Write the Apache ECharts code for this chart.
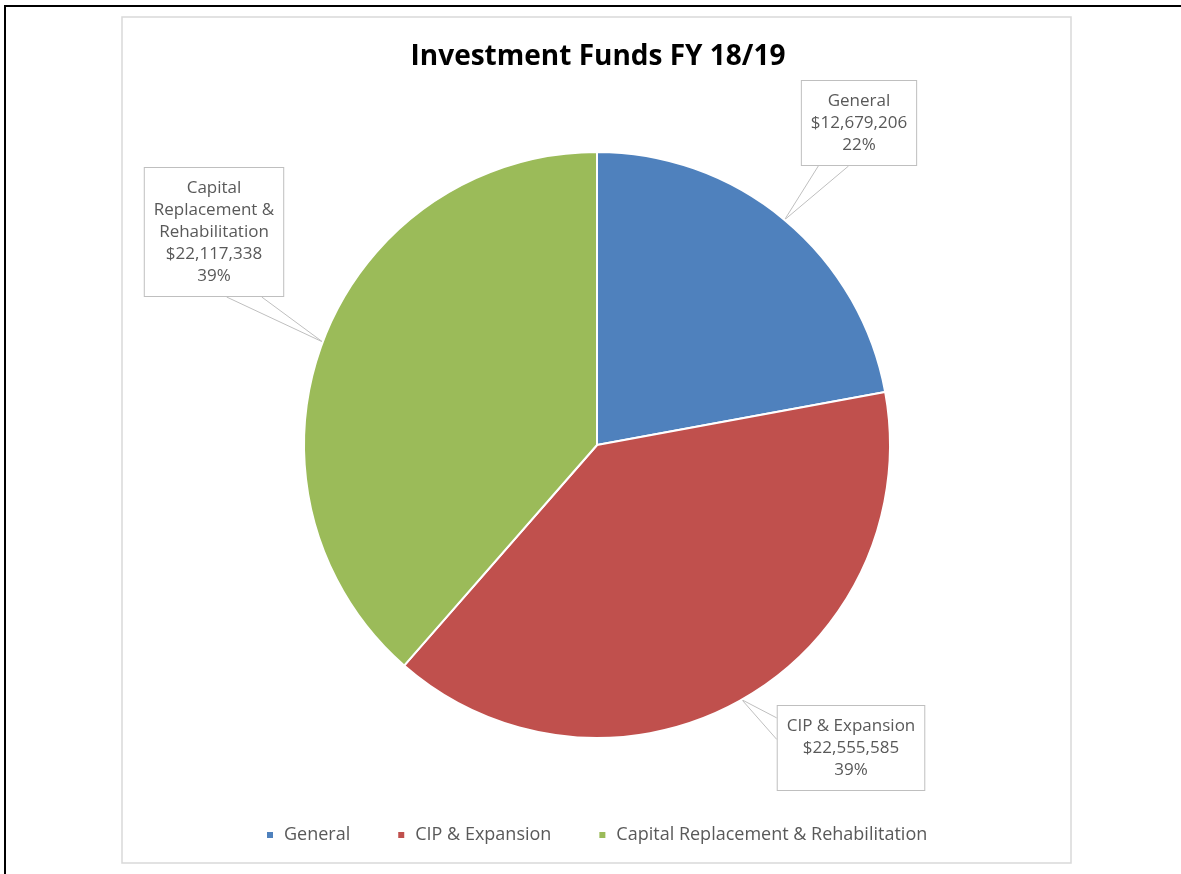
<!DOCTYPE html>
<html>
<head>
<meta charset="utf-8">
<script src="https://cdn.jsdelivr.net/npm/echarts@6/dist/echarts.min.js"></script>
<style>
  html, body { margin: 0; padding: 0; background: #fff; overflow: hidden; width: 1181px; height: 874px; }
  #frame { position: absolute; left: 4px; top: 5px; width: 1200px; height: 900px; border-left: 2px solid #000; border-top: 2px solid #000; box-sizing: border-box; }
  #chart { position: absolute; left: 0; top: 0; width: 1181px; height: 874px; }
</style>
</head>
<body>
<div id="frame"></div>
<div id="chart"></div>
<script>
// ---- data ----
const titleText = 'Investment Funds FY 18/19';
const categories = ['General', 'CIP & Expansion', 'Capital Replacement & Rehabilitation'];
const labelNames = ['General', 'CIP & Expansion', 'Capital\nReplacement &\nRehabilitation'];
const values = [12679206, 22555585, 22117338];
const percentLabels = ['22%', '39%', '39%'];
const colors = ['#4F81BD', '#C0504D', '#9BBB59'];

// ---- label box layout (callout boxes) ----
const calloutCenters = [[859, 123], [851, 748], [214, 232]];
// pointer base along box edge: side, fraction start, fraction end
const calloutBase = [
  { side: 'bottom', f0: 0.15, f1: 0.41 },
  { side: 'left', f0: 0.15, f1: 0.40 },
  { side: 'bottom', f0: 0.59, f1: 0.84 }
];

function fmtMoney(v) {
  return '$' + v.toString().replace(/\B(?=(\d{3})+(?!\d))/g, ',');
}

const chart = echarts.init(document.getElementById('chart'), null, { renderer: 'canvas' });
const font = '"Open Sans", Lato, sans-serif';

const option = {
  backgroundColor: 'transparent',
  animation: false,
  title: {
    text: titleText,
    left: 593,
    top: 38,
    textAlign: 'center',
    textStyle: { fontFamily: font, fontWeight: 'bold', fontSize: 28, color: '#000' }
  },
  legend: {
    data: categories,
    left: 260,
    top: 821,
    icon: 'rect',
    itemWidth: 8,
    itemHeight: 8,
    itemGap: 46,
    textStyle: { fontFamily: font, fontSize: 18, color: '#595959', padding: [0, 0, 0, 5] }
  },
  graphic: [{
    type: 'rect',
    shape: { x: 122, y: 17, width: 949, height: 846 },
    style: { fill: 'none', stroke: '#D9D9D9', lineWidth: 1.5 },
    silent: true
  }],
  series: [{
    type: 'pie',
    center: [597, 445],
    radius: [0, 293],
    startAngle: 90,
    clockwise: true,
    avoidLabelOverlap: false,
    itemStyle: { borderColor: '#fff', borderWidth: 2 },
    data: categories.map((c, i) => ({ name: c, value: values[i], itemStyle: { color: colors[i] } })),
    label: {
      show: true,
      position: 'outside',
      formatter: (p) => labelNames[p.dataIndex] + '\n' + fmtMoney(values[p.dataIndex]) + '\n' + percentLabels[p.dataIndex],
      fontFamily: font,
      fontSize: 17,
      lineHeight: 22,
      color: '#595959',
      backgroundColor: '#fff',
      borderColor: '#BFBFBF',
      borderWidth: 1,
      padding: [9, 9, 9, 9]
    },
    labelLine: {
      show: true,
      length: 10,
      length2: 10,
      lineStyle: { color: '#BFBFBF', width: 1 }
    },
    labelLayout: function (params) {
      const i = params.dataIndex;
      const c = calloutCenters[i];
      const w = params.labelRect.width, h = params.labelRect.height;
      const left = c[0] - w / 2, top = c[1] - h / 2;
      const tip = params.labelLinePoints ? params.labelLinePoints[0] : null;
      const b = calloutBase[i];
      let a, bb;
      if (b.side === 'bottom') {
        a = [left + w * b.f0, top + h];
        bb = [left + w * b.f1, top + h];
      } else {
        a = [left, top + h * b.f0];
        bb = [left, top + h * b.f1];
      }
      const res = { x: c[0], y: c[1], align: 'center', verticalAlign: 'middle' };
      if (tip) res.labelLinePoints = [a, tip, bb];
      return res;
    }
  }]
};
chart.setOption(option);
</script>
</body>
</html>
